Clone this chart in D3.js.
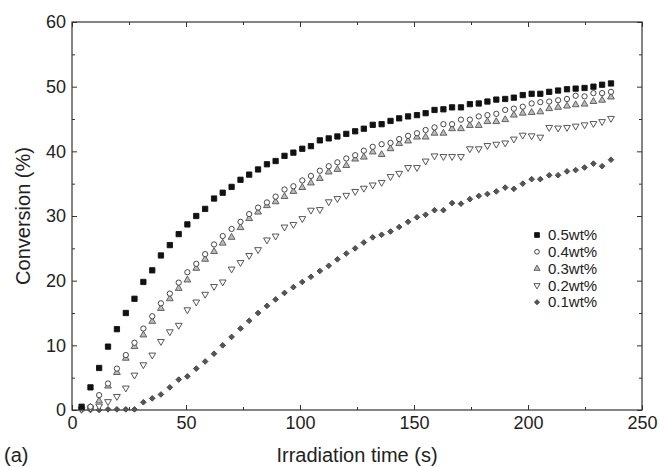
<!DOCTYPE html>
<html><head><meta charset="utf-8">
<script src="https://cdn.jsdelivr.net/npm/d3@7/dist/d3.min.js"></script>
<style>body{margin:0;background:#fff}svg{display:block}text{font-family:"Liberation Sans",Arial,sans-serif;fill:#222}</style>
</head><body><svg id="c" width="665" height="467"></svg>
<script>
const times = [4.2,8.1,11.9,15.8,19.7,23.6,27.4,31.3,35.2,39.0,
  42.9,46.8,50.6,54.5,58.4,62.3,66.1,70.0,73.9,77.7,
  81.6,85.5,89.3,93.2,97.1,101.0,104.8,108.7,112.6,116.4,
  120.3,124.2,128.0,131.9,135.8,139.7,143.5,147.4,151.3,155.1,
  159.0,162.9,166.7,170.6,174.5,178.4,182.2,186.1,190.0,193.8,
  197.7,201.6,205.4,209.3,213.2,217.1,220.9,224.8,228.7,232.5,236.4];
const s05 = [0.5,3.5,6.5,9.8,12.5,15.0,17.2,19.8,21.6,23.9,
  25.5,27.2,28.7,30.0,31.1,32.7,33.6,34.5,35.6,36.4,
  37.2,38.0,38.5,39.3,39.8,40.4,40.8,41.7,42.0,42.3,
  42.7,43.1,43.5,44.1,44.2,44.7,45.1,45.4,45.6,45.9,
  46.4,46.5,46.8,46.8,47.3,47.4,47.7,48.0,48.1,48.3,
  48.7,48.9,48.9,49.2,49.4,49.6,49.7,49.8,50.0,50.3,50.5];
const s04 = [0.3,0.5,2.3,4.1,6.4,8.5,10.4,12.6,14.5,16.5,
  18.0,19.7,21.3,22.6,24.1,25.6,26.9,28.0,29.1,30.3,
  31.3,32.1,33.0,34.1,34.6,35.5,36.2,37.0,37.7,38.3,
  38.9,39.4,40.1,40.7,41.1,41.3,41.9,42.4,42.8,43.3,
  43.7,44.2,44.2,44.9,44.9,45.4,45.6,45.8,46.4,46.6,
  46.9,47.4,47.6,47.7,47.9,48.1,48.6,48.5,49.0,49.0,49.2];
const s03 = [0.2,0.4,1.4,3.7,5.8,8.0,9.8,11.6,13.7,15.7,
  17.2,18.8,20.1,21.9,23.3,24.5,25.8,26.7,28.2,29.6,
  30.6,31.6,32.2,33.0,33.8,34.4,35.1,35.8,36.8,37.2,
  37.8,38.8,39.1,39.9,39.5,40.4,41.2,41.6,42.2,42.2,
  42.8,42.8,43.5,43.5,44.0,44.0,44.6,44.6,44.9,45.6,
  45.9,46.0,46.1,46.6,46.8,47.0,47.2,47.3,47.7,47.9,48.4];
const s02 = [0.1,0.3,0.6,1.3,2.1,3.4,5.4,7.0,8.5,10.6,
  12.1,13.1,15.5,16.7,17.9,19.1,19.8,21.8,22.8,23.9,
  24.8,26.3,26.9,28.3,28.7,29.6,30.9,31.0,32.2,32.7,
  33.2,33.8,34.3,34.8,35.2,36.1,36.6,37.5,37.5,38.5,
  39.3,39.2,39.2,39.2,40.4,40.4,40.9,41.1,41.3,41.9,
  42.5,42.4,42.2,43.7,43.6,43.7,43.9,44.1,44.3,44.6,45.1];
const s01 = [0.0,0.0,0.0,0.1,0.1,0.1,0.1,1.2,1.8,2.4,
  3.5,4.7,5.2,6.4,7.5,8.7,10.0,11.3,12.6,13.8,
  15.0,16.1,17.1,18.1,19.0,19.8,20.6,21.5,22.3,23.3,
  24.2,25.0,25.9,26.7,27.1,27.6,28.3,29.1,29.8,30.2,
  30.9,30.9,32.0,31.9,32.6,33.1,33.4,33.8,34.4,34.2,
  35.0,35.7,35.7,36.3,36.3,36.9,37.1,37.5,38.1,37.7,38.7];
const seriesNames = ["0.5wt%","0.4wt%","0.3wt%","0.2wt%","0.1wt%"];
const seriesValues = [s05, s04, s03, s02, s01];
const xMajor = [0,50,100,150,200,250];
const xMinor = [25,75,125,175,225];
const yMajor = [0,10,20,30,40,50,60];
const yMinor = [5,15,25,35,45,55];

const styles = [
  {type: d3.symbolSquare, size: 28, fill: "#111", stroke: "#111"},
  {type: d3.symbolCircle, size: 22, fill: "#fff", stroke: "#333"},
  {type: d3.symbolTriangle, size: 20, fill: "#bbb", stroke: "#555"},
  {type: d3.symbolTriangle, size: 20, fill: "#fff", stroke: "#444", rot: 180},
  {type: d3.symbolSquare, size: 16, fill: "#555", stroke: "#444", rot: 45}
];

const svg = d3.select("#c");
const L = 72, R = 642, T = 22, B = 410;
const x = d3.scaleLinear().domain([0,250]).range([L,R]);
const y = d3.scaleLinear().domain([0,60]).range([B,T]);

function axis(gen, vals, size, fmt, tr, pad) {
  const a = gen.tickValues(vals).tickSizeInner(-size).tickSizeOuter(0).tickPadding(pad||4);
  if (!fmt) a.tickFormat(""); else a.tickFormat(d3.format("d"));
  const g = svg.append("g").attr("transform", tr).call(a);
  g.select(".domain").remove();
  g.selectAll("line").attr("stroke","#333");
  return g;
}
const bx = axis(d3.axisBottom(x), xMajor, 5, true, `translate(0,${B})`, 6);
bx.selectAll("text").style("font-size","18px").attr("fill","#222");
axis(d3.axisBottom(x), xMinor, 3, false, `translate(0,${B})`);
axis(d3.axisTop(x), xMajor, 5, false, `translate(0,${T})`);
axis(d3.axisTop(x), xMinor, 3, false, `translate(0,${T})`);
const ly = axis(d3.axisLeft(y), yMajor, 5, true, `translate(${L},0)`, 6);
ly.selectAll("text").style("font-size","18px").attr("fill","#222");
axis(d3.axisLeft(y), yMinor, 3, false, `translate(${L},0)`);
axis(d3.axisRight(y), yMajor, 5, false, `translate(${R},0)`);
axis(d3.axisRight(y), yMinor, 3, false, `translate(${R},0)`);

svg.append("rect").attr("x",L).attr("y",T).attr("width",R-L).attr("height",B-T)
  .attr("fill","none").attr("stroke","#333").attr("stroke-width",1.2);

for (let k = seriesValues.length - 1; k >= 0; k--) {
  const st = styles[k];
  const sym = d3.symbol().type(st.type).size(st.size);
  svg.append("g").selectAll("path").data(seriesValues[k]).join("path")
    .attr("d", sym)
    .attr("transform", (d,i) => `translate(${x(times[i])},${y(d)})` + (st.rot ? ` rotate(${st.rot})` : ""))
    .attr("fill", st.fill).attr("stroke", st.stroke).attr("stroke-width", 0.9);
}

const lg = svg.append("g");
seriesNames.forEach((n, k) => {
  const st = styles[k];
  const yy = 235 + k * 16.8;
  lg.append("path").attr("d", d3.symbol().type(st.type).size(st.size*0.8)())
    .attr("transform", `translate(537,${yy})` + (st.rot ? ` rotate(${st.rot})` : ""))
    .attr("fill", st.fill).attr("stroke", st.stroke).attr("stroke-width",0.9);
  lg.append("text").attr("x", 548).attr("y", yy).attr("dy","0.35em")
    .style("font-size","15px").text(n);
});

svg.append("text").attr("x", (L+R)/2).attr("y", 462).attr("text-anchor","middle")
  .style("font-size","20px").text("Irradiation time (s)");
svg.append("text").attr("transform", `translate(30,${(T+B)/2}) rotate(-90)`)
  .attr("text-anchor","middle").style("font-size","20px").text("Conversion (%)");
svg.append("text").attr("x", 4).attr("y", 462).style("font-size","20px").text("(a)");
</script></body></html>
